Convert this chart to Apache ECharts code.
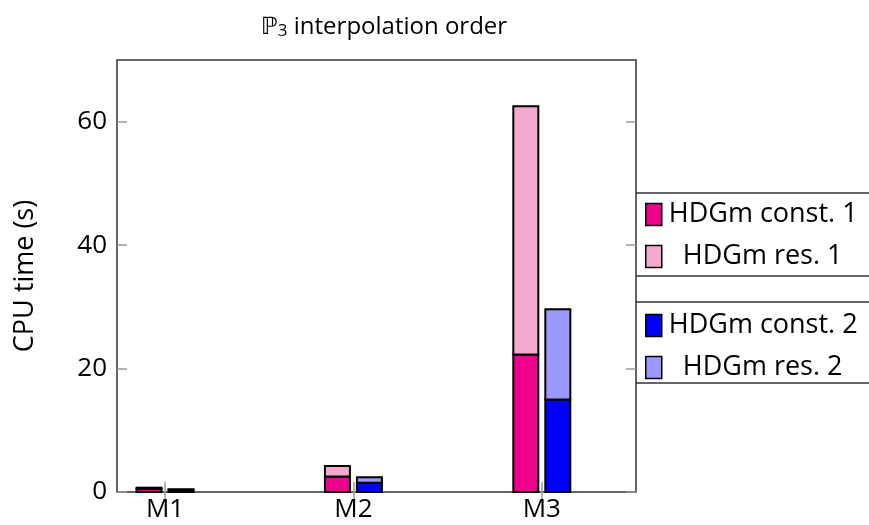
<!DOCTYPE html>
<html>
<head>
<meta charset="utf-8">
<script src="https://cdn.jsdelivr.net/npm/echarts@6/dist/echarts.min.js"></script>
<style>html,body{margin:0;padding:0;background:#fff;}#c{width:869px;height:525px;}</style>
</head>
<body>
<div id="c"></div>
<script>
const categories = ['M1', 'M2', 'M3'];
const xPos = [1, 2, 3];
const const1 = [0.5, 2.5, 22.3];
const res1 = [0.2, 1.7, 40.2];
const const2 = [0.3, 1.5, 15.0];
const res2 = [0.15, 0.9, 14.6];
const yTicks = [0, 20, 40, 60];
const seriesNames = ['HDGm const. 1', 'HDGm res. 1', 'HDGm const. 2', 'HDGm res. 2'];
const colors = ['#EC008C', '#F4AACE', '#0000FF', '#9999FF'];

const FONT = '"Open Sans", sans-serif';
const chart = echarts.init(document.getElementById('c'), null, {renderer: 'canvas'});

const BAR_W = 25;
// stacked segments: [x, base, top]
function segs(base, vals) {
  return xPos.map((x, i) => [x, base ? base[i] : 0, (base ? base[i] : 0) + vals[i]]);
}
function barSeries(name, data, color, offset) {
  return {
    name: name, type: 'custom', data: data,
    itemStyle: {color: color, borderColor: '#000', borderWidth: 2},
    encode: {x: 0, y: [1, 2]},
    renderItem: function (params, api) {
      const x = api.value(0), y0 = api.value(1), y1 = api.value(2);
      const p0 = api.coord([x, y0]);
      const p1 = api.coord([x, y1]);
      return {
        type: 'rect',
        shape: {x: p0[0] + offset - BAR_W / 2, y: p1[1], width: BAR_W, height: p0[1] - p1[1]},
        style: {fill: color, stroke: '#000', lineWidth: 2}
      };
    },
    emphasis: {disabled: true}
  };
}
const xMin = 0.745, xMax = 3.5;
const tickStyle = {show: true, inside: true, length: 10, lineStyle: {color: '#999', width: 1.5}};
function legendItems(names) {
  return names.map(n => ({name: n, icon: 'rect', itemStyle: {color: colors[seriesNames.indexOf(n)], borderColor: '#000', borderWidth: 1.5}}));
}
const legendCommon = {
  orient: 'vertical', left: 645, padding: 0, icon: 'rect',
  itemWidth: 16, itemHeight: 22, itemGap: 15, selectedMode: false,
  itemStyle: {borderColor: '#000', borderWidth: 1.5},
  formatter: n => n.indexOf('res') >= 0 ? '  ' + n : n,
  textStyle: {fontFamily: FONT, fontSize: 27, color: '#000', padding: [0, 0, 0, 2]}
};

const option = {
  animation: false,
  backgroundColor: '#fff',
  title: {
    text: '{bb|ℙ}{sub|3} interpolation order',
    left: 256, top: 10,
    textStyle: {
      fontFamily: FONT, fontSize: 24, fontWeight: 'normal', color: '#000',
      rich: {
        bb: {fontFamily: '"DejaVu Sans"', fontSize: 24, color: '#000'},
        sub: {fontFamily: FONT, fontSize: 17, color: '#000', verticalAlign: 'bottom', padding: [8, 0, 0, 0]}
      }
    }
  },
  grid: {left: 117, right: 233, top: 60, bottom: 33, show: true, borderColor: '#333', borderWidth: 1.5, backgroundColor: 'transparent'},
  legend: [
    Object.assign({data: legendItems(seriesNames.slice(0, 2)), top: 201}, legendCommon),
    Object.assign({data: legendItems(seriesNames.slice(2, 4)), top: 312}, legendCommon)
  ],
  graphic: [193, 276, 302, 383].map(y => ({
    type: 'line', shape: {x1: 636, y1: y, x2: 869, y2: y},
    style: {stroke: '#333', lineWidth: 1.5}
  })),
  xAxis: [
    {
      type: 'value', min: xMin, max: xMax, splitLine: {show: false},
      axisLine: {show: false},
      axisTick: Object.assign({customValues: xPos}, tickStyle),
      axisLabel: {customValues: xPos, formatter: v => categories[xPos.indexOf(v)] || '', fontFamily: FONT, fontSize: 26, color: '#000', margin: 5}
    },
    {
      type: 'value', position: 'top', min: xMin, max: xMax, splitLine: {show: false},
      axisLine: {show: false},
      axisTick: Object.assign({customValues: xPos}, tickStyle),
      axisLabel: {show: false}
    }
  ],
  yAxis: [
    {
      type: 'value', min: 0, max: 70, splitLine: {show: false},
      axisLine: {show: false},
      axisTick: Object.assign({customValues: yTicks}, tickStyle),
      axisLabel: {customValues: yTicks, fontFamily: FONT, fontSize: 26, color: '#000', margin: 10},
      name: 'CPU time (s)', nameLocation: 'middle', nameGap: 78, nameRotate: 90,
      nameTextStyle: {fontFamily: FONT, fontSize: 27, color: '#000'}
    },
    {
      type: 'value', position: 'right', min: 0, max: 70, splitLine: {show: false},
      axisLine: {show: false},
      axisTick: Object.assign({customValues: yTicks}, tickStyle),
      axisLabel: {show: false}
    }
  ],
  series: [
    barSeries(seriesNames[0], segs(null, const1), colors[0], -16),
    barSeries(seriesNames[1], segs(const1, res1), colors[1], -16),
    barSeries(seriesNames[2], segs(null, const2), colors[2], 16),
    barSeries(seriesNames[3], segs(const2, res2), colors[3], 16)
  ]
};
chart.setOption(option);
</script>
</body>
</html>
